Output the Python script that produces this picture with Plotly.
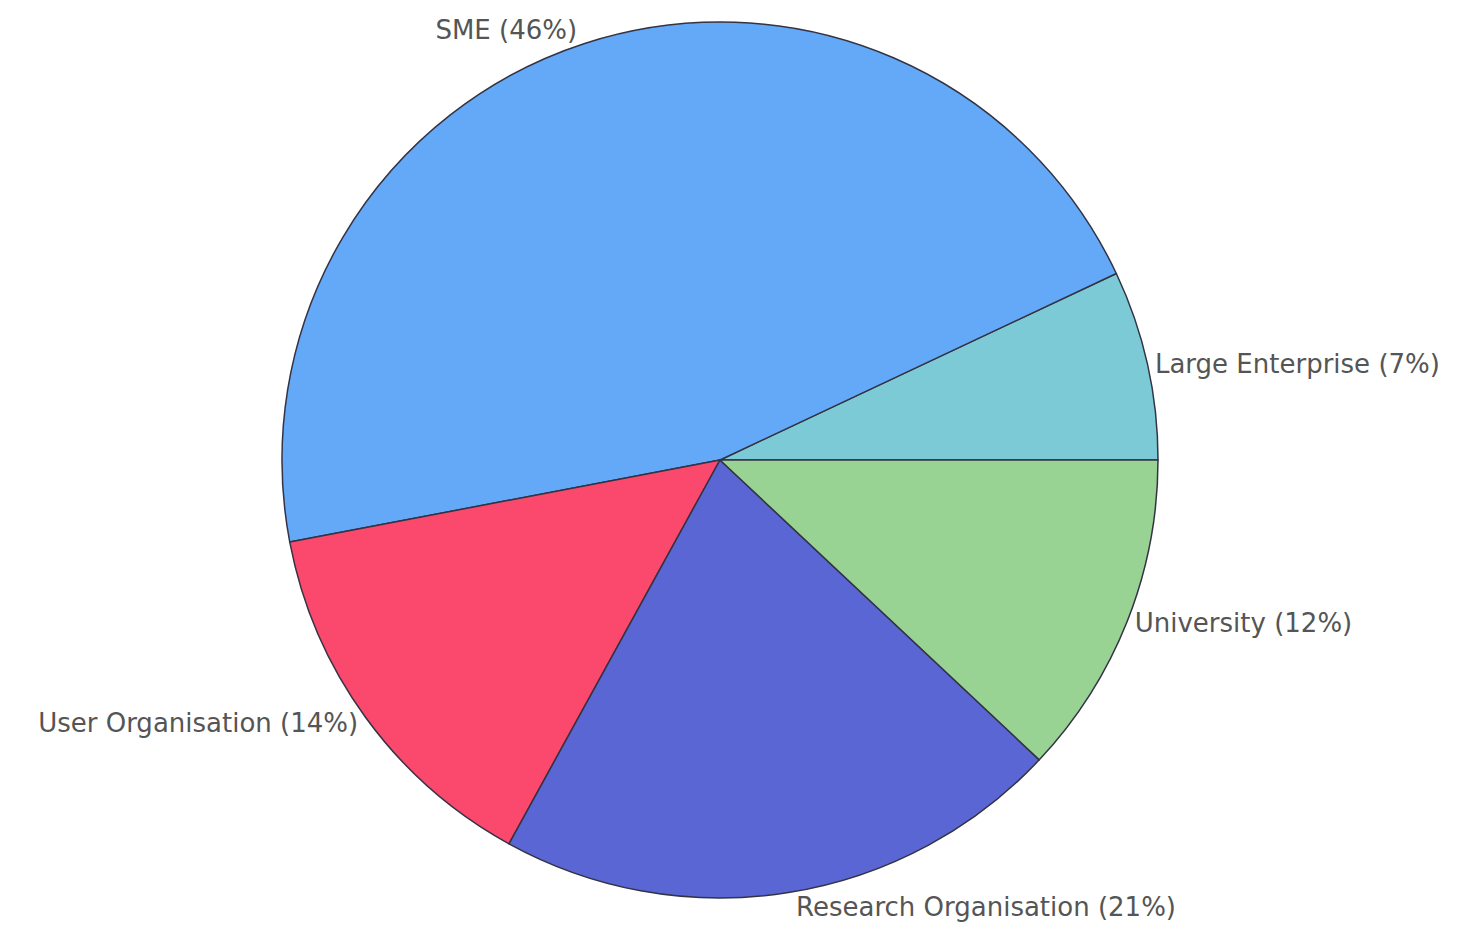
import plotly.graph_objects as go

categories = ["Large Enterprise", "SME", "User Organisation", "Research Organisation", "University"]
shares = [7, 46, 14, 21, 12]
colors = ["#7ccad6", "#63a9f7", "#fb486d", "#5a66d4", "#98d394"]
labels_text = [f"{c} ({v}%)" for c, v in zip(categories, shares)]

# first slice starts at 3 o'clock and slices run counterclockwise
start_rotation = 90 - 360 * shares[0] / sum(shares)

fig = go.Figure(go.Pie(
    labels=categories,
    values=shares,
    text=labels_text,
    textinfo="text",
    textposition="outside",
    sort=False,
    direction="counterclockwise",
    rotation=start_rotation,
    marker=dict(colors=colors, line=dict(color="#333344", width=1.5)),
    outsidetextfont=dict(family="DejaVu Sans", size=26, color="#555555"),
    showlegend=False,
    automargin=False,
))
fig.update_layout(
    width=1474, height=932,
    margin=dict(l=0, r=50, t=14, b=42),
    paper_bgcolor="white",
)
fig.write_html("out.html")
